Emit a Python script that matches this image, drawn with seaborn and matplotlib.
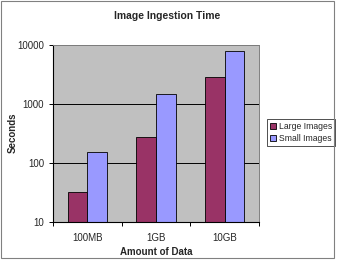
import matplotlib
matplotlib.use("Agg")
import matplotlib.pyplot as plt
import seaborn as sns
import pandas as pd
import numpy as np

categories = ["100MB", "1GB", "10GB"]
large_images = [32.5, 272, 2840]
small_images = [152, 1500, 7800]
series_names = ["Large Images", "Small Images"]

df = pd.DataFrame({
    "Amount of Data": categories * 2,
    "Seconds": large_images + small_images,
    "Series": [series_names[0]] * 3 + [series_names[1]] * 3,
})

sns.set_theme(style="white")
plt.rcParams["font.family"] = ["Liberation Sans", "DejaVu Sans"]

fig = plt.figure(figsize=(3.37, 2.63), dpi=100)
ax = fig.add_axes([53/337, 1 - 222/263, 206/337, 177/263])
ax.set_facecolor("#C0C0C0")

sns.barplot(data=df, x="Amount of Data", y="Seconds", hue="Series",
            palette=["#993366", "#9999FF"], width=0.57, ax=ax,
            edgecolor="black", linewidth=0.6, saturation=1, log_scale=(False, True))

ax.set_yscale("log")
ax.set_ylim(10, 10000)
ax.set_xlim(-0.5, 2.5)
ax.yaxis.set_major_locator(matplotlib.ticker.FixedLocator([10, 100, 1000, 10000]))
ax.yaxis.set_minor_locator(matplotlib.ticker.NullLocator())
ax.set_yticklabels(["10", "100", "1000", "10000"])
ax.yaxis.grid(True, color="black", linewidth=0.7)
ax.set_axisbelow(True)

ax.set_xticks([0, 1, 2])
ax.set_xticklabels(categories)
ax.set_xticks([0.5, 1.5, 2.5, -0.5], minor=True)
ax.tick_params(axis="x", which="major", length=0, labelsize=7, pad=8)
ax.tick_params(axis="x", which="minor", length=3, width=0.7, color="black", direction="out", bottom=True)
ax.tick_params(axis="y", which="major", length=3, width=0.7, color="black", direction="out", left=True, labelsize=7)

for s in ["top", "right"]:
    ax.spines[s].set_visible(True)
    ax.spines[s].set_color("#808080")
    ax.spines[s].set_linewidth(0.7)
for s in ["left", "bottom"]:
    ax.spines[s].set_color("black")
    ax.spines[s].set_linewidth(0.8)

ax.set_xlabel("Amount of Data", fontsize=7, fontweight="bold", labelpad=3)
ax.set_ylabel("")
fig.text(13/337, 1 - 133/263, "Seconds", rotation=90, ha="center", va="center",
         fontsize=7, fontweight="bold")
fig.text(167/337, 1 - 16/263, "Image Ingestion Time", ha="center", va="center",
         fontsize=7.5, fontweight="bold")

leg = ax.legend(loc="upper left", bbox_to_anchor=(267/337, 1 - 119/263),
                bbox_transform=fig.transFigure, frameon=True, fancybox=False,
                fontsize=6.2, handlelength=0.7, handleheight=0.7, handletextpad=0.3,
                borderpad=0.35, labelspacing=0.35, borderaxespad=0)
leg.get_frame().set_edgecolor("black")
leg.get_frame().set_linewidth(0.6)
leg.set_title(None)

# figure border
fig.patches.append(matplotlib.patches.Rectangle((0.003, 0.02), 0.988, 0.975, transform=fig.transFigure,
                                                fill=False, edgecolor="#808080", linewidth=0.8))

fig.savefig("out.png", dpi=100)
